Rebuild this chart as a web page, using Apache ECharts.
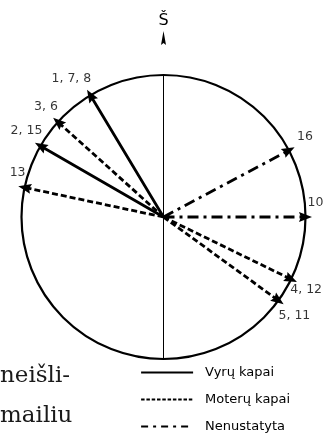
<!DOCTYPE html>
<html>
<head>
<meta charset="utf-8">
<script src="https://cdn.jsdelivr.net/npm/echarts@6/dist/echarts.min.js"></script>
<style>
  html, body { margin: 0; padding: 0; background: #fff; }
  #chart { width: 328px; height: 433px; }
</style>
</head>
<body>
<div id="chart"></div>
<script>
// directions of the graves, compass degrees (clockwise from north)
const arrowLabels = ['1, 7, 8', '3, 6', '2, 15', '13', '16', '10', '4, 12', '5, 11'];
const arrowAngles = [329, 312, 300, 282, 62, 90, 116, 126];
const arrowGroups = ['Vyrų kapai', 'Moterų kapai', 'Vyrų kapai', 'Moterų kapai',
  'Nenustatyta', 'Nenustatyta', 'Moterų kapai', 'Moterų kapai'];
const groupNames = ['Vyrų kapai', 'Moterų kapai', 'Nenustatyta'];
const northLabel = 'Š';
const pageText = ['neišli-', 'mailiu'];

// label placement around each arrow tip (px)
const labelOffsets = [[-19, -17], [-12, -15], [-14, -15], [-7, -15], [16, -14], [10, -14], [15, 11], [16, 15]];
const lineTypes = {
  'Vyrų kapai': 'solid',
  'Moterų kapai': [6, 3],
  'Nenustatyta': [11, 5, 3, 5]
};
// the legend samples use a finer pattern than the arrows
const legendLineTypes = {
  'Vyrų kapai': 'solid',
  'Moterų kapai': [3.5, 1.8],
  'Nenustatyta': [7, 5, 3, 5]
};
const arrowHead = 'path://M5,0 L10,14 L5,12 L0,14 Z';

const chart = echarts.init(document.getElementById('chart'));
const sans = '"DejaVu Sans", sans-serif';

const groupSeries = groupNames.map(name => {
  const data = [];
  arrowAngles.forEach((a, i) => {
    if (arrowGroups[i] !== name) return;
    data.push({ value: [0, a], symbol: 'none' });
    data.push({ value: [1, a], symbol: arrowHead, symbolSize: [10, 13], symbolRotate: -a });
    data.push('-');
  });
  return {
    name,
    type: 'line',
    coordinateSystem: 'polar',
    symbol: 'none',
    clip: false,
    data,
    lineStyle: { color: '#000', width: 2.8, type: lineTypes[name] },
    itemStyle: { color: '#000' }
  };
});

const option = {
  animation: false,
  backgroundColor: '#fff',
  polar: { center: [163.5, 217], radius: 142 },
  angleAxis: {
    type: 'value',
    min: 0,
    max: 360,
    startAngle: 90,
    clockwise: true,
    axisLine: { lineStyle: { color: '#000', width: 2.2 } },
    axisTick: { show: false },
    axisLabel: { show: false },
    splitLine: { show: false }
  },
  radiusAxis: { min: 0, max: 1, show: false },
  legend: {
    data: groupNames.map(name => ({
      name,
      lineStyle: { type: legendLineTypes[name], width: 2.2 }
    })),
    orient: 'vertical',
    left: 140,
    top: 366,
    height: 90,
    padding: 0,
    itemWidth: 52,
    itemHeight: 14,
    itemGap: 14,
    itemStyle: { opacity: 0 },
    textStyle: { color: '#000', fontSize: 13, fontFamily: sans, padding: [0, 0, 0, 7] }
  },
  graphic: pageText.map((t, i) => ({
    type: 'text',
    left: 0,
    top: 365 + i * 40,
    style: { text: t, font: '23px "DejaVu Serif", serif', fill: '#1a1a1a' }
  })),
  series: [
    {
      name: 'north',
      type: 'line',
      coordinateSystem: 'polar',
      symbol: 'none',
      clip: false,
      data: [
        { value: [1.26, 0], symbol: arrowHead, symbolSize: [5, 14],
          label: { show: true, position: 'inside', offset: [0, -17], formatter: northLabel,
            color: '#000', fontSize: 16, fontFamily: sans } },
        { value: [1, 180] }
      ],
      lineStyle: { color: '#000', width: 1 },
      itemStyle: { color: '#000' }
    },
    ...groupSeries,
    {
      name: 'labels',
      type: 'scatter',
      coordinateSystem: 'polar',
      symbolSize: 1,
      itemStyle: { color: 'rgba(0,0,0,0)' },
      data: arrowAngles.map((a, i) => ({
        value: [1, a],
        label: {
          show: true,
          position: 'inside',
          offset: labelOffsets[i],
          formatter: arrowLabels[i],
          color: '#000',
          fontSize: 12.5,
          fontFamily: sans
        }
      })),
      z: 5
    }
  ]
};

chart.setOption(option);
</script>
</body>
</html>
